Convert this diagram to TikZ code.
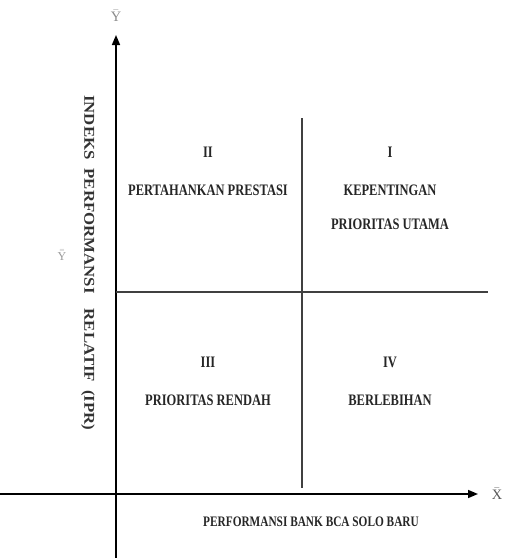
\documentclass[tikz,border=0pt]{standalone}
\usepackage{fontspec}
\setmainfont{Liberation Serif}
\newfontfamily\condfont{Liberation Serif}[FakeStretch=0.78]
\newfontfamily\widefont{Liberation Serif}[FakeStretch=1.12]
\usetikzlibrary{positioning,arrows.meta}

\begin{document}
\begin{tikzpicture}[x=1pt,y=-1pt,node distance=27pt,
  axis/.style={line width=1.6pt,-{Triangle[length=10pt,width=8pt]}},
  divider/.style={line width=1.2pt,black!75},
  quad/.style={inner sep=0pt,text=black!85,
    font=\condfont\bfseries\fontsize{16}{19}\selectfont},
  axlbl/.style={inner sep=0pt,text=black!65,font=\Large},
  vlbl/.style={inner sep=0pt,text=black!80,
    font=\widefont\bfseries\fontsize{15}{18}\selectfont}]
  \useasboundingbox (0,0) rectangle (509,558);
  % axes
  \coordinate (ybot) at (116,558);
  \coordinate (ytop) at (116,35);
  \coordinate (xl) at (0,494);
  \coordinate (xr) at (478,494);
  \draw[axis] (ybot) -- (ytop);
  \draw[axis] (xl) -- (xr);
  % quadrant dividers
  \coordinate (hl) at (116,292);
  \coordinate (hr) at (488,292);
  \coordinate (vt) at (302,118);
  \coordinate (vb) at (302,488);
  \draw[divider] (hl) -- (hr);
  \draw[divider] (vt) -- (vb);
  % axis labels
  \node[axlbl,text=black!45] (ybar) at (116,16) {$\bar{\mathrm{Y}}$};
  \node[axlbl] (xbar) at (497,494) {$\bar{\mathrm{X}}$};
  \node[axlbl,text=black!40,font=\large] (ybarl) at (62,255) {$\bar{\bar{\mathrm{Y}}}$};
  \node[vlbl,rotate=-90,anchor=west] (ipr) at (88,95)
    {INDEKS\hspace{9pt}PERFORMANSI\hspace{15pt}RELATIF\hspace{8pt}(IPR)};
  \node[quad,font=\condfont\bfseries\fontsize{14.5}{17}\selectfont] (perf) at (311,522)
    {PERFORMANSI BANK BCA SOLO BARU};
  % quadrants
  \node[quad] (q2) at (208,152) {II};
  \node[quad,below=of q2] (q2a) {PERTAHANKAN PRESTASI};
  \node[quad] (q1) at (390,152) {I};
  \node[quad,below=of q1] (q1a) {KEPENTINGAN};
  \node[quad,below=23pt of q1a] (q1b) {PRIORITAS UTAMA};
  \node[quad] (q3) at (208,362) {III};
  \node[quad,below=of q3] (q3a) {PRIORITAS RENDAH};
  \node[quad] (q4) at (390,362) {IV};
  \node[quad,below=of q4] (q4a) {BERLEBIHAN};
\end{tikzpicture}
\end{document}
